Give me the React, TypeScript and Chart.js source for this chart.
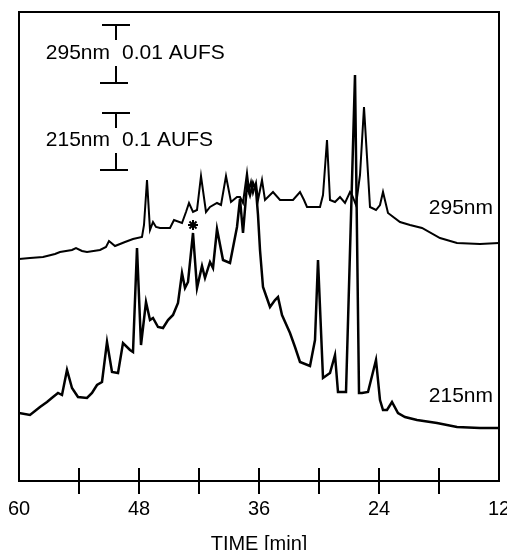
import React, { useEffect, useRef } from "react";
import { Chart, registerables } from "chart.js";

Chart.register(...registerables);

// Retention time (min) and detector response (arbitrary units)
const time295 = [60.0, 58.9, 57.6, 56.4, 55.9, 54.7, 54.3, 53.7, 53.2, 51.9, 51.3, 51.0, 50.4, 49.4, 48.6, 47.7, 47.5, 47.2, 46.9, 46.6, 46.3, 45.9, 44.9, 44.5, 43.7, 43.3, 43.0, 42.6, 42.2, 41.8, 41.3, 40.9, 40.2, 39.8, 39.3, 38.8, 38.2, 37.9, 37.6, 37.2, 37.0, 36.8, 36.6, 36.3, 36.1, 35.7, 35.4, 34.6, 33.9, 33.1, 32.6, 31.9, 31.5, 31.2, 29.9, 29.6, 29.2, 28.9, 28.4, 27.9, 27.4, 26.9, 26.7, 26.3, 25.9, 25.5, 24.9, 24.3, 23.9, 23.6, 23.1, 21.9, 20.9, 19.7, 17.9, 16.2, 13.9, 12.0];
const abs295 = [222, 223, 224, 227, 229, 231, 233, 230, 229, 231, 234, 240, 235, 239, 242, 244, 256, 301, 251, 259, 254, 253, 253, 261, 258, 269, 278, 269, 271, 305, 269, 274, 278, 276, 305, 279, 284, 284, 278, 308, 291, 299, 288, 298, 281, 301, 281, 289, 281, 281, 281, 289, 281, 274, 274, 286, 341, 281, 279, 284, 278, 289, 286, 276, 306, 374, 274, 271, 276, 289, 268, 259, 256, 253, 243, 238, 237, 238];

const time215 = [60.0, 58.9, 57.9, 57.2, 56.6, 56.1, 55.7, 55.2, 54.7, 54.1, 53.2, 52.7, 52.2, 51.7, 51.2, 50.7, 50.1, 49.6, 48.9, 48.6, 48.2, 47.8, 47.3, 46.9, 46.6, 46.1, 45.6, 45.1, 44.6, 44.1, 43.7, 43.4, 43.1, 42.6, 42.2, 41.7, 41.4, 40.9, 40.6, 40.2, 39.6, 38.9, 38.2, 37.9, 37.6, 37.2, 36.9, 36.6, 36.3, 36.1, 35.9, 35.6, 34.9, 34.4, 34.1, 33.7, 32.9, 32.4, 31.9, 30.9, 30.4, 30.1, 29.6, 28.9, 28.4, 28.1, 27.3, 26.4, 26.0, 25.7, 25.1, 24.3, 23.9, 23.6, 23.2, 22.7, 22.1, 21.4, 20.2, 18.2, 16.2, 13.9, 12.0];
const abs215 = [68, 66, 74, 79, 84, 88, 86, 111, 93, 84, 83, 88, 96, 99, 139, 109, 108, 138, 131, 129, 233, 136, 179, 161, 163, 154, 153, 161, 166, 178, 208, 193, 199, 248, 193, 215, 203, 219, 213, 252, 221, 218, 254, 282, 248, 296, 286, 298, 291, 266, 231, 194, 174, 181, 184, 166, 148, 134, 119, 115, 141, 221, 103, 108, 126, 89, 89, 406, 88, 88, 89, 121, 81, 71, 71, 79, 68, 64, 61, 58, 54, 53, 53];

// Axis ticks
const tickValues = [60, 54, 48, 42, 36, 30, 24, 18, 12];
const labelledTicks = [60, 48, 36, 24, 12];

// Marked peak (asterisk)
const starTime = [42.6];
const starAbs = [256];

// Trace labels
const traceLabels = ["295nm", "215nm"];
const traceLabelTime = [12.6, 12.6];
const traceLabelAbs = [273, 85];

// Scale bars (sensitivity)
const barNames = ["295nm", "215nm"];
const barRanges = ["0.01 AUFS", "0.1 AUFS"];
const barTop = [456, 368];
const barGapTop = [441, 353];
const barGapBottom = [415, 328];
const barBottom = [398, 311];
const barTime = 50.3;
const barCapHalf = 1.4;

const FONT = "'Liberation Sans', Arial, sans-serif";

const decorPlugin = {
  id: "decor",
  afterDatasetsDraw(chart: any) {
    const { ctx, chartArea, scales } = chart;
    const xs = scales.x;
    const ys = scales.y;
    ctx.save();
    ctx.strokeStyle = "#000";
    ctx.fillStyle = "#000";
    ctx.lineWidth = 2;
    // frame
    ctx.strokeRect(chartArea.left, chartArea.top, chartArea.right - chartArea.left, chartArea.bottom - chartArea.top);
    // tick marks crossing the time axis
    tickValues.forEach((t) => {
      if (t === 60 || t === 12) return;
      const px = xs.getPixelForValue(t);
      ctx.beginPath();
      ctx.moveTo(px, chartArea.bottom - 13);
      ctx.lineTo(px, chartArea.bottom + 13);
      ctx.stroke();
    });
    // scale bars
    const bx = xs.getPixelForValue(barTime);
    const cl = xs.getPixelForValue(barTime + barCapHalf);
    const cr = xs.getPixelForValue(barTime - barCapHalf);
    ctx.font = `21px ${FONT}`;
    ctx.textBaseline = "middle";
    for (let i = 0; i < barNames.length; i++) {
      const yt = ys.getPixelForValue(barTop[i]);
      const yg1 = ys.getPixelForValue(barGapTop[i]);
      const yg2 = ys.getPixelForValue(barGapBottom[i]);
      const yb = ys.getPixelForValue(barBottom[i]);
      ctx.beginPath();
      ctx.moveTo(cl, yt);
      ctx.lineTo(cr, yt);
      ctx.moveTo(bx, yt);
      ctx.lineTo(bx, yg1);
      ctx.moveTo(bx, yg2);
      ctx.lineTo(bx, yb);
      ctx.moveTo(cl - 2, yb);
      ctx.lineTo(cr - 2, yb);
      ctx.stroke();
      const ym = (yg1 + yg2) / 2;
      ctx.textAlign = "right";
      ctx.fillText(barNames[i], bx - 6, ym);
      ctx.textAlign = "left";
      ctx.fillText(barRanges[i], bx + 6, ym);
    }
    // trace labels
    ctx.textAlign = "right";
    for (let i = 0; i < traceLabels.length; i++) {
      ctx.fillText(traceLabels[i], xs.getPixelForValue(traceLabelTime[i]), ys.getPixelForValue(traceLabelAbs[i]));
    }
    ctx.restore();
  },
};

export default function App() {
  const ref = useRef<HTMLCanvasElement | null>(null);
  useEffect(() => {
    if (!ref.current) return;
    const chart = new Chart(ref.current, {
      type: "line",
      data: {
        datasets: [
          {
            label: "295nm",
            data: time295.map((t, i) => ({ x: t, y: abs295[i] })),
            borderColor: "#000",
            borderWidth: 2,
            pointRadius: 0,
            tension: 0,
            fill: false,
          },
          {
            label: "215nm",
            data: time215.map((t, i) => ({ x: t, y: abs215[i] })),
            borderColor: "#000",
            borderWidth: 2.5,
            pointRadius: 0,
            tension: 0,
            fill: false,
          },
          {
            label: "*",
            data: starTime.map((t, i) => ({ x: t, y: starAbs[i] })),
            showLine: false,
            pointStyle: "star",
            pointRadius: 5,
            pointBorderWidth: 2,
            borderColor: "#000",
            backgroundColor: "#000",
          },
        ],
      },
      options: {
        responsive: false,
        animation: false,
        layout: { padding: { left: 19, top: 12, right: 8, bottom: 0 } },
        plugins: { legend: { display: false }, tooltip: { enabled: false } },
        scales: {
          x: {
            type: "linear",
            reverse: true,
            min: 12,
            max: 60,
            grid: { display: false, drawTicks: false },
            border: { display: false },
            ticks: {
              stepSize: 6,
              padding: 16,
              color: "#000",
              font: { family: FONT, size: 20 },
              maxRotation: 0,
              autoSkip: false,
              callback: (v: any) => (labelledTicks.includes(Number(v)) ? String(v) : ""),
            },
            title: {
              display: true,
              text: "TIME [min]",
              color: "#000",
              font: { family: FONT, size: 20 },
              padding: { top: 0, bottom: -6 },
            },
            afterFit: (scale: any) => {
              scale.height = 69;
              scale.paddingLeft = 0;
              scale.paddingRight = 0;
            },
          },
          y: { display: false, min: 0, max: 469 },
        },
      },
      plugins: [decorPlugin],
    } as any);
    return () => chart.destroy();
  }, []);
  return (
    <div style={{ position: "absolute", left: 0, top: 0, width: 507, height: 550, background: "#fff" }}>
      <canvas ref={ref} width={507} height={550} style={{ display: "block" }} />
    </div>
  );
}
